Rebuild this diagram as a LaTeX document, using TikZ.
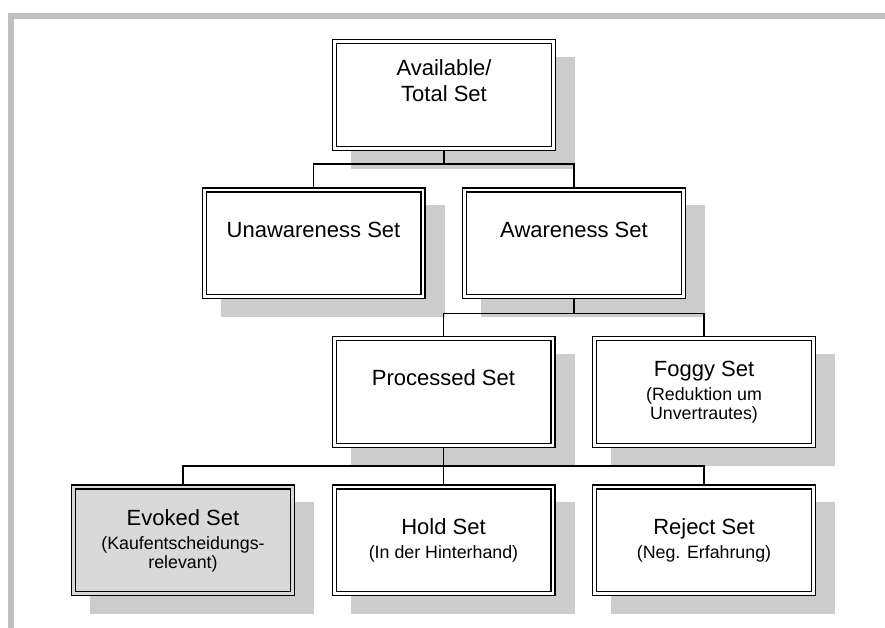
\documentclass[tikz,border=0pt]{standalone}
\usepackage{fontspec}
\setmainfont{Liberation Sans}
\usetikzlibrary{positioning,backgrounds}
\definecolor{framegray}{RGB}{192,192,192}
\definecolor{shadowgray}{RGB}{204,204,204}
\definecolor{evokedgray}{RGB}{217,217,217}
\newcommand{\subf}{\fontsize{17.8}{18.8}\selectfont}
\tikzset{
    setbox/.style={rectangle, draw, fill=white, double=white, double distance=2.8pt, line width=1.2pt, minimum width=218.8pt, minimum height=106.8pt, outer sep=2.6pt, inner sep=0pt, align=center, font=\fontsize{22}{26}\selectfont},
    toponly/.style={text depth=28pt},
    link/.style={draw, line width=1.2pt}
}

\begin{document}
\begin{tikzpicture}[node distance=36.5pt, x=1pt, y=1pt]
    \useasboundingbox (0,0) rectangle (885,628);
    % grey frame, top and left
    \fill[framegray] (8,609) rectangle (885,615);
    \fill[framegray] (8,0) rectangle (14,615);

    \node[setbox, toponly] (avail) at (444,533) {Available/\\Total Set};
    \node[setbox, toponly, below=of avail, xshift=-130.5pt] (unaw) {Unawareness Set};
    \node[setbox, toponly, right=of unaw] (aware) {Awareness Set};
    \node[setbox, toponly, below=of aware, xshift=-130.5pt] (proc) {Processed Set};
    \node[setbox, right=of proc] (foggy) {Foggy Set\\[-1.7pt]\subf(Reduktion um\\[-7.2pt]\subf Unvertrautes)};
    \node[setbox, below=of proc] (hold) {Hold Set\\[-1.7pt]\subf(In der Hinterhand)};
    \node[setbox, fill=evokedgray, double=evokedgray, left=of hold] (evoked) {Evoked Set\\[-1.7pt]\subf(Kaufentscheidungs-\\[-7.2pt]\subf relevant)};
    \node[setbox, right=of hold] (reject) {Reject Set\\[-1.7pt]\subf(Neg. Erfahrung)};

    % shadows
    \begin{scope}[on background layer]
        \foreach \n in {avail,unaw,aware,proc,foggy,evoked,hold,reject}
            \fill[shadowgray] ([shift={(19,-18)}]\n.south west) rectangle ([shift={(19,-18)}]\n.north east);
    \end{scope}

    \draw[link] (avail.south) -- ++(0,-13) -| (unaw.north);
    \draw[link] (avail.south) -- ++(0,-13) -| (aware.north);
    \draw[link] (aware.south) -- ++(0,-14) -| (proc.north);
    \draw[link] (aware.south) -- ++(0,-14) -| (foggy.north);
    \draw[link] (proc.south) -- ++(0,-18) -| (evoked.north);
    \draw[link] (proc.south) -- ++(0,-18) -| (hold.north);
    \draw[link] (proc.south) -- ++(0,-18) -| (reject.north);
\end{tikzpicture}
\end{document}
